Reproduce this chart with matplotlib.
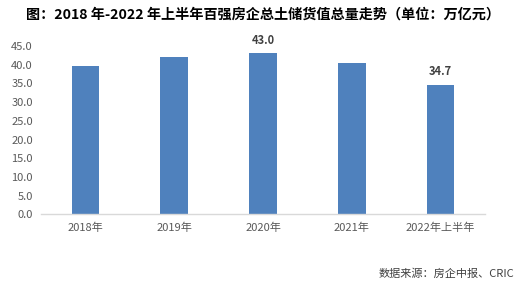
import matplotlib
matplotlib.use("Agg")
import matplotlib.pyplot as plt

plt.rcParams['font.family'] = ['Noto Sans CJK SC', 'DejaVu Sans']

categories = ["2018年", "2019年", "2020年", "2021年", "2022年上半年"]
values = [39.6, 42.0, 43.0, 40.4, 34.7]
labeled = [2, 4]
yticks = [0, 5, 10, 15, 20, 25, 30, 35, 40, 45]

fig = plt.figure(figsize=(5.26, 2.84), dpi=100)
ax = fig.add_axes([0.078, 0.245, 0.844, 0.593])
x = list(range(len(categories)))
ax.bar(x, values, width=0.31, color="#4F81BD", zorder=2)
for i in labeled:
    ax.text(i, values[i] + 1.7, f"{values[i]:.1f}", ha="center", va="bottom",
            fontsize=8, fontweight="bold", color="#404040")
ax.set_xlim(-0.5, len(categories) - 0.5)
ax.set_ylim(0, 45)
ax.set_yticks(yticks)
ax.set_yticklabels([f"{v:.1f}" for v in yticks])
ax.set_xticks(x)
ax.set_xticklabels(categories)
ax.tick_params(axis="both", length=0, labelsize=8, colors="#595959")
ax.tick_params(axis="x", pad=6)
ax.tick_params(axis="y", pad=6)
for s in ["top", "right", "left"]:
    ax.spines[s].set_visible(False)
ax.spines["bottom"].set_color("#D9D9D9")
ax.spines["bottom"].set_linewidth(1)

fig.text(0.5, 0.95, "图：2018 年-2022 年上半年百强房企总土储货值总量走势（单位：万亿元）",
         ha="center", va="center", fontsize=10.2, fontweight="bold", color="black")
fig.text(0.977, 0.035, "数据来源：房企中报、CRIC", ha="right", va="center",
         fontsize=8, color="#404040")

fig.savefig("out.png", dpi=100)
